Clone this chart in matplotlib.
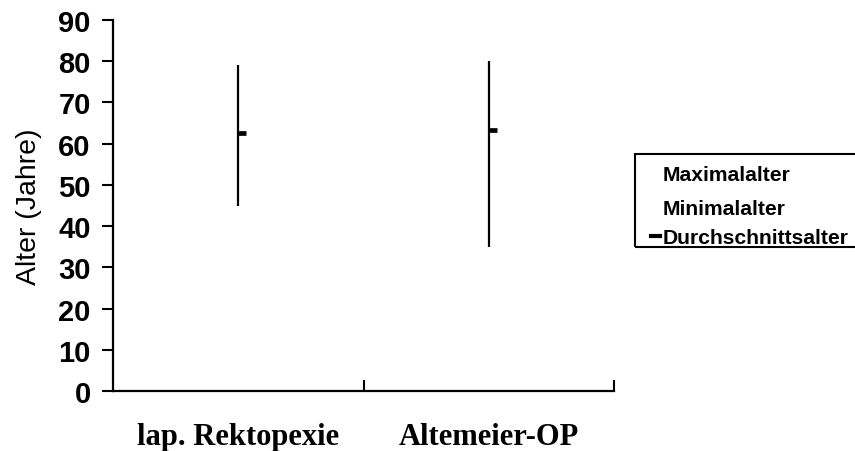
import matplotlib
matplotlib.use('Agg')
import matplotlib.pyplot as plt
from matplotlib.patches import Rectangle
from matplotlib.lines import Line2D

# Data
categories = ['lap. Rektopexie', 'Altemeier-OP']
max_age = [79, 80]
min_age = [45, 35]
mean_age = [62.6, 63.2]
yticks = [0, 10, 20, 30, 40, 50, 60, 70, 80, 90]
legend_labels = ['Maximalalter', 'Minimalalter', 'Durchschnittsalter']

W, H = 855, 452
fig = plt.figure(figsize=(W / 100, H / 100), dpi=100)
ax = fig.add_axes([113 / W, (H - 392) / H, (614 - 113) / W, (392 - 21) / H])

xs = list(range(len(categories)))

# high-low lines
ax.vlines(xs, min_age, max_age, colors='black', linewidth=1.6)
# mean as right-facing tick
ax.plot(xs, mean_age, linestyle='none', marker=1, color='black',
        markersize=6, markeredgewidth=3.4)

ax.set_xlim(-0.5, len(categories) - 0.5)
ax.set_ylim(0, 90)

# spines
for s in ['top', 'right']:
    ax.spines[s].set_visible(False)
for s in ['left', 'bottom']:
    ax.spines[s].set_linewidth(1.6)

ax.set_yticks(yticks)
ax.set_yticklabels([str(v) for v in yticks], fontfamily='Liberation Sans',
                   fontweight='bold', fontsize=21)
ax.tick_params(axis='y', direction='out', length=8, width=1.5, pad=8)

ax.set_xticks(xs)
ax.set_xticklabels(categories, fontfamily='Liberation Serif',
                   fontweight='bold', fontsize=22)
ax.tick_params(axis='x', which='major', length=0, pad=22)
ax.set_xticks([x + 0.5 for x in xs], minor=True)
ax.tick_params(axis='x', which='minor', direction='in', length=8, width=1.5)

ax.set_ylabel('Alter (Jahre)', fontfamily='Liberation Sans', fontsize=20.5)
ax.yaxis.set_label_coords(-0.142, 0.5)

# legend box (runs off the right edge like the original)
box = Rectangle((635 / W, (H - 248) / H), 240 / W, 93 / H,
                transform=fig.transFigure, fill=False, edgecolor='black',
                linewidth=1.5, clip_on=False)
fig.patches.append(box)
row_base = [181, 215, 244]
for lab, y in zip(legend_labels, row_base):
    fig.text(663 / W, (H - y) / H, lab, fontfamily='Liberation Sans',
             fontweight='bold', fontsize=15.2, va='baseline', ha='left')
fig.lines.append(Line2D([651 / W, 660 / W], [(H - 237) / H] * 2,
                        transform=fig.transFigure, color='black',
                        linewidth=3))

fig.savefig('out.png', dpi=100)
